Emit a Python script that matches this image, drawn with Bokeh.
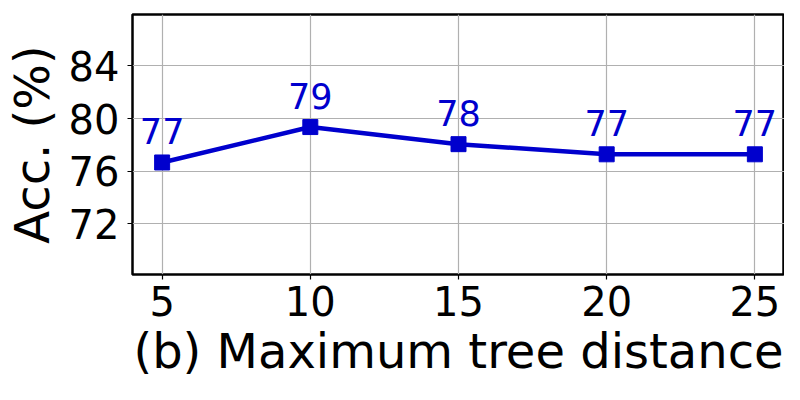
from bokeh.plotting import figure
from bokeh.models import ColumnDataSource, Range1d, FixedTicker
from bokeh.core.properties import value
from bokeh.embed import file_html
from bokeh.resources import INLINE

distances = [5, 10, 15, 20, 25]
accuracy = [76.66, 79.35, 78.05, 77.28, 77.28]
x_ticks = [5, 10, 15, 20, 25]
y_ticks = [72, 76, 80, 84]
labels = [f"{v:.0f}" for v in accuracy]

FONT = "DejaVu Sans"
BLUE = "#0000CD"

src = ColumnDataSource(data=dict(x=distances, y=accuracy, label=labels))

p = figure(width=784, height=384, output_backend="svg", toolbar_location=None,
           x_range=Range1d(4, 26), y_range=Range1d(68.15, 87.9),
           min_border_left=125, min_border_right=0, min_border_top=14, min_border_bottom=110)

p.background_fill_color = "white"
p.border_fill_color = "white"
p.outline_line_color = "black"
p.outline_line_width = 2.5

p.grid.grid_line_color = "#b0b0b0"
p.grid.grid_line_width = 1.2

p.xaxis.ticker = FixedTicker(ticks=x_ticks)
p.yaxis.ticker = FixedTicker(ticks=y_ticks)
p.xaxis.minor_tick_line_color = None
p.yaxis.minor_tick_line_color = None

for ax in (p.xaxis, p.yaxis):
    ax.axis_line_color = None
    ax.major_tick_line_color = "black"
    ax.major_tick_line_width = 1.2
    ax.major_tick_out = 5
    ax.major_tick_in = 0
    ax.major_label_text_font = FONT
    ax.major_label_text_font_size = "40px"
    ax.major_label_text_color = "black"
    ax.axis_label_text_font = FONT
    ax.axis_label_text_font_size = "48px"
    ax.axis_label_text_font_style = "normal"
    ax.axis_label_text_color = "black"

p.xaxis.axis_label = "(b) Maximum tree distance"
p.yaxis.axis_label = "Acc. (%)"
p.xaxis.major_label_standoff = 6
p.xaxis.axis_label_standoff = 4
p.yaxis.major_label_standoff = 8
p.yaxis.axis_label_standoff = 6

p.line("x", "y", source=src, line_color=BLUE, line_width=4.5)
p.scatter("x", "y", source=src, marker="square", size=15, fill_color=BLUE, line_color=BLUE)
p.text("x", "y", text="label", source=src, text_font=value(FONT), text_font_size="35px",
       text_color=BLUE, text_align="center", text_baseline="alphabetic", y_offset=-31)

open("out.html", "w").write(file_html(p, INLINE))
